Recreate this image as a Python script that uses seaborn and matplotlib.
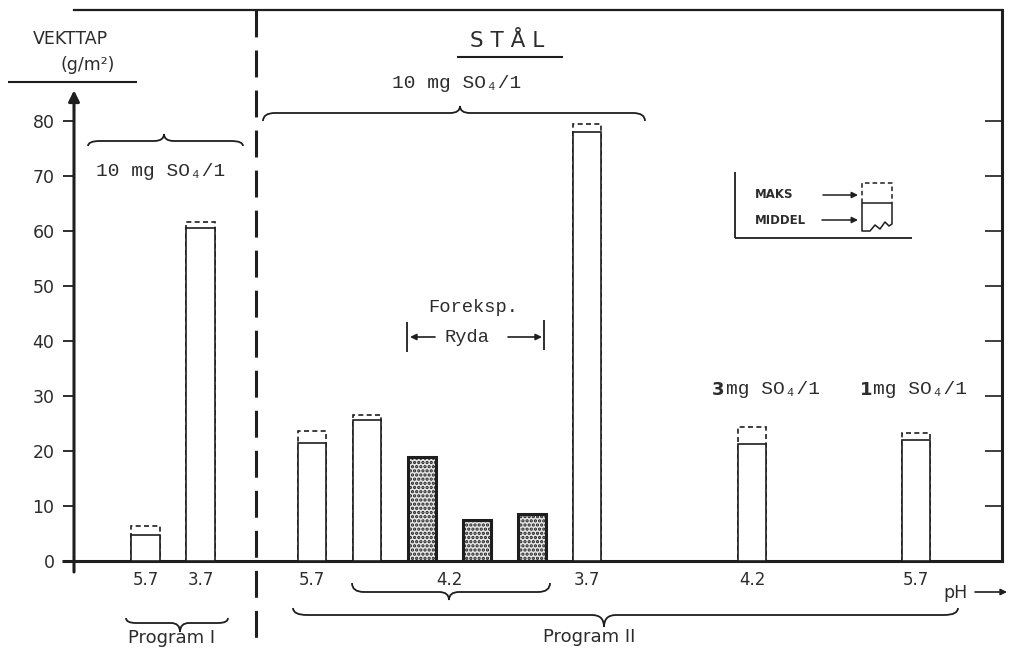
import numpy as np
import pandas as pd
import matplotlib
matplotlib.use("Agg")
import matplotlib.pyplot as plt
import seaborn as sns
from matplotlib.path import Path
from matplotlib.patches import PathPatch

# ---------------- data ----------------
ph_labels = ["5.7", "3.7", "5.7", "4.2", "4.2", "4.2", "4.2", "3.7", "4.2", "5.7"]
program = ["I", "I", "II", "II", "II", "II", "II", "II", "II", "II"]
middel = [4.8, 60.5, 21.5, 25.6, 19.0, 7.5, 8.6, 78.0, 21.3, 22.0]
maks = [6.3, 61.6, 23.6, 26.5, np.nan, np.nan, np.nan, 79.5, 24.4, 23.3]
ryda = [False, False, False, False, True, True, True, False, False, False]
y_ticks = [0, 10, 20, 30, 40, 50, 60, 70, 80]

# ---------------- layout ----------------
bar_slot = [1.3, 2.3, 4.33, 5.33, 6.33, 7.33, 8.33, 9.33, 12.33, 15.31]

df = pd.DataFrame({"slot": bar_slot, "ph": ph_labels, "program": program,
                   "middel": middel, "maks": maks, "ryda": ryda})

sns.set_style("ticks")
plt.rcParams["font.family"] = ["DejaVu Sans"]
plt.rcParams["hatch.linewidth"] = 1.6
INK = "#1e1e1e"
TXT = "#2c2c2c"
MONO = ["Liberation Mono", "DejaVu Sans Mono"]

W, H = 1010, 656
fig = plt.figure(figsize=(W / 100, H / 100), dpi=100)
ax = fig.add_axes([74 / W, (H - 561) / H, 928 / W, 551 / H])

plain = df[~df["ryda"]]
hatched = df[df["ryda"]]
withmax = df[df["maks"].notna()]

sns.barplot(data=withmax, x="slot", y="maks", native_scale=True, width=0.51,
            color="white", saturation=1, edgecolor=INK, linewidth=1.2,
            linestyle=(0, (3, 2)), errorbar=None, ax=ax, zorder=2)
sns.barplot(data=plain, x="slot", y="middel", native_scale=True, width=0.51,
            color="white", saturation=1, edgecolor=INK, linewidth=1.2,
            errorbar=None, ax=ax, zorder=3)
sns.barplot(data=hatched, x="slot", y="middel", native_scale=True, width=0.51,
            color="#e6e6e6", saturation=1, edgecolor=INK, linewidth=2.2,
            hatch="....", errorbar=None, ax=ax, zorder=3)

ax.set_xlim(0, 16.87)
ax.set_ylim(0, 100.2)
ax.set_xlabel("")
ax.set_ylabel("")

# x ticks: one label per bar, 4.2 group shares one label
grp = df.index[(df["program"] == "II") & (df["ph"] == "4.2") & (df.index < 8)]
tick_pos = [df.loc[i, "slot"] for i in df.index if i not in grp]
tick_lab = [df.loc[i, "ph"] for i in df.index if i not in grp]
tick_pos.append(df.loc[grp, "slot"].mean())
tick_lab.append("4.2")
ax.set_xticks(tick_pos)
ax.set_xticklabels(tick_lab, fontsize=12, color=TXT)
ax.tick_params(axis="x", length=0, pad=7)

ax.set_yticks(y_ticks)
ax.set_yticklabels([str(v) for v in y_ticks], fontsize=12.5, color=TXT)
ax.tick_params(axis="y", direction="out", length=8, width=1.3, color=INK, pad=6)

ax.spines["left"].set_visible(False)
ax.spines["bottom"].set_linewidth(2.2)
ax.spines["right"].set_linewidth(2.2)
ax.spines["top"].set_linewidth(1.6)
for s in ("bottom", "right", "top"):
    ax.spines[s].set_color(INK)
ax.patch.set_alpha(0)

# right inward ticks
ax2 = ax.twinx()
ax2.set_ylim(ax.get_ylim())
ax2.set_yticks(y_ticks[1:])
ax2.tick_params(axis="y", direction="in", length=12, width=1.2, color=INK, labelright=False)
for s in ax2.spines.values():
    s.set_visible(False)

# y axis with arrow
ax.annotate("", xy=(0, 85.6), xytext=(0, -2.0), xycoords="data",
            arrowprops=dict(arrowstyle="-|>", lw=2.2, color=INK, mutation_scale=16,
                            shrinkA=0, shrinkB=0), annotation_clip=False)

# ---------------- overlay in pixel coordinates ----------------
ov = fig.add_axes([0, 0, 1, 1], zorder=10)
ov.set_xlim(0, W)
ov.set_ylim(H, 0)
ov.axis("off")
ov.patch.set_alpha(0)


def line(xs, ys, lw=1.3, **kw):
    ov.plot(xs, ys, color=INK, lw=lw, solid_capstyle="butt", **kw)


def brace(x0, x1, xm, y, e, p, r=12, rt=10, lw=1.3):
    verts = [(x0, y + e), (x0, y), (x0 + r, y),
             (xm - rt, y), (xm, y), (xm, y + p),
             (xm, y), (xm + rt, y),
             (x1 - r, y), (x1, y), (x1, y + e)]
    codes = [Path.MOVETO, Path.CURVE3, Path.CURVE3,
             Path.LINETO, Path.CURVE3, Path.CURVE3,
             Path.CURVE3, Path.CURVE3,
             Path.LINETO, Path.CURVE3, Path.CURVE3]
    ov.add_patch(PathPatch(Path(verts, codes), fill=False, edgecolor=INK, lw=lw))


def arrow(x0, x1, y, lw=1.2):
    ov.annotate("", xy=(x1, y), xytext=(x0, y),
                arrowprops=dict(arrowstyle="-|>", lw=lw, color=INK, mutation_scale=9,
                                shrinkA=0, shrinkB=0))


# dashed separator between programs
line([256, 256], [10, 645], lw=2.2, linestyle=(0, (8.8, 4.3)))
# small extension of the x axis
line([62, 74], [561, 561], lw=2.2)

# y label
ov.text(70, 39, "VEKTTAP", ha="center", va="center", fontsize=12.5, color=TXT)
ov.text(88, 65, "(g/m²)", ha="center", va="center", fontsize=12.5, color=TXT)
line([8, 137], [82, 82], lw=1.5)

# title
ov.text(507, 41, "S T Å L", ha="center", va="center", fontsize=15.5, color=TXT)
line([457, 563], [57, 57], lw=1.5)

# concentration labels and braces
ov.text(457, 83, "10 mg SO₄/1", ha="center", va="center", fontsize=14, color=TXT, family=MONO)
brace(263, 645, 460, 113, 8, -7)
ov.text(161, 171, "10 mg SO₄/1", ha="center", va="center", fontsize=14, color=TXT, family=MONO)
brace(88, 243, 164, 141, 5, -7)

ov.text(712, 390, "3", ha="left", va="center", fontsize=13, color=TXT, fontweight="bold")
ov.text(726, 390, "mg SO₄/1", ha="left", va="center", fontsize=14, color=TXT, family=MONO)
ov.text(860, 390, "1", ha="left", va="center", fontsize=13, color=TXT, fontweight="bold")
ov.text(873, 390, "mg SO₄/1", ha="left", va="center", fontsize=14, color=TXT, family=MONO)

# Foreksp. Ryda
ov.text(473, 308, "Foreksp.", ha="center", va="center", fontsize=13.5, color=TXT, family=MONO)
ov.text(467, 337, "Ryda", ha="center", va="center", fontsize=13.5, color=TXT, family=MONO)
line([407, 407], [322, 352], lw=1.3)
line([544, 544], [320, 350], lw=1.3)
arrow(435, 410, 337)
arrow(508, 542, 337)

# legend box
line([735, 735], [172, 238], lw=1.3)
line([735, 912], [238, 238], lw=1.3)
ov.text(755, 195, "MAKS", ha="left", va="center", fontsize=8.5, color=TXT, fontweight="bold")
ov.text(755, 221, "MIDDEL", ha="left", va="center", fontsize=8.5, color=TXT, fontweight="bold")
arrow(823, 858, 195, lw=1.1)
arrow(822, 858, 220, lw=1.1)
line([862, 862, 892, 892], [203, 183, 183, 203], lw=1.1, linestyle=(0, (3, 2)))
line([862, 892], [203, 203], lw=1.1)
line([862, 862, 870, 875, 880, 885, 889, 892, 892],
     [203, 231, 231, 225, 229, 222, 226, 224, 203], lw=1.1)

# bottom braces and program labels
brace(352, 550, 449, 592, -9, 8)
brace(126, 228, 180, 623, -5, 9, r=10, rt=9)
ov.text(172, 638, "Program I", ha="center", va="center", fontsize=13, color=TXT)
brace(293, 958, 604, 615, -7, 12, r=14, rt=12)
ov.text(589, 637, "Program II", ha="center", va="center", fontsize=13, color=TXT)

ov.text(943, 593, "pH", ha="left", va="center", fontsize=12.5, color=TXT)
arrow(975, 1007, 592, lw=1.2)

fig.savefig("out.png", dpi=100, facecolor="white")
